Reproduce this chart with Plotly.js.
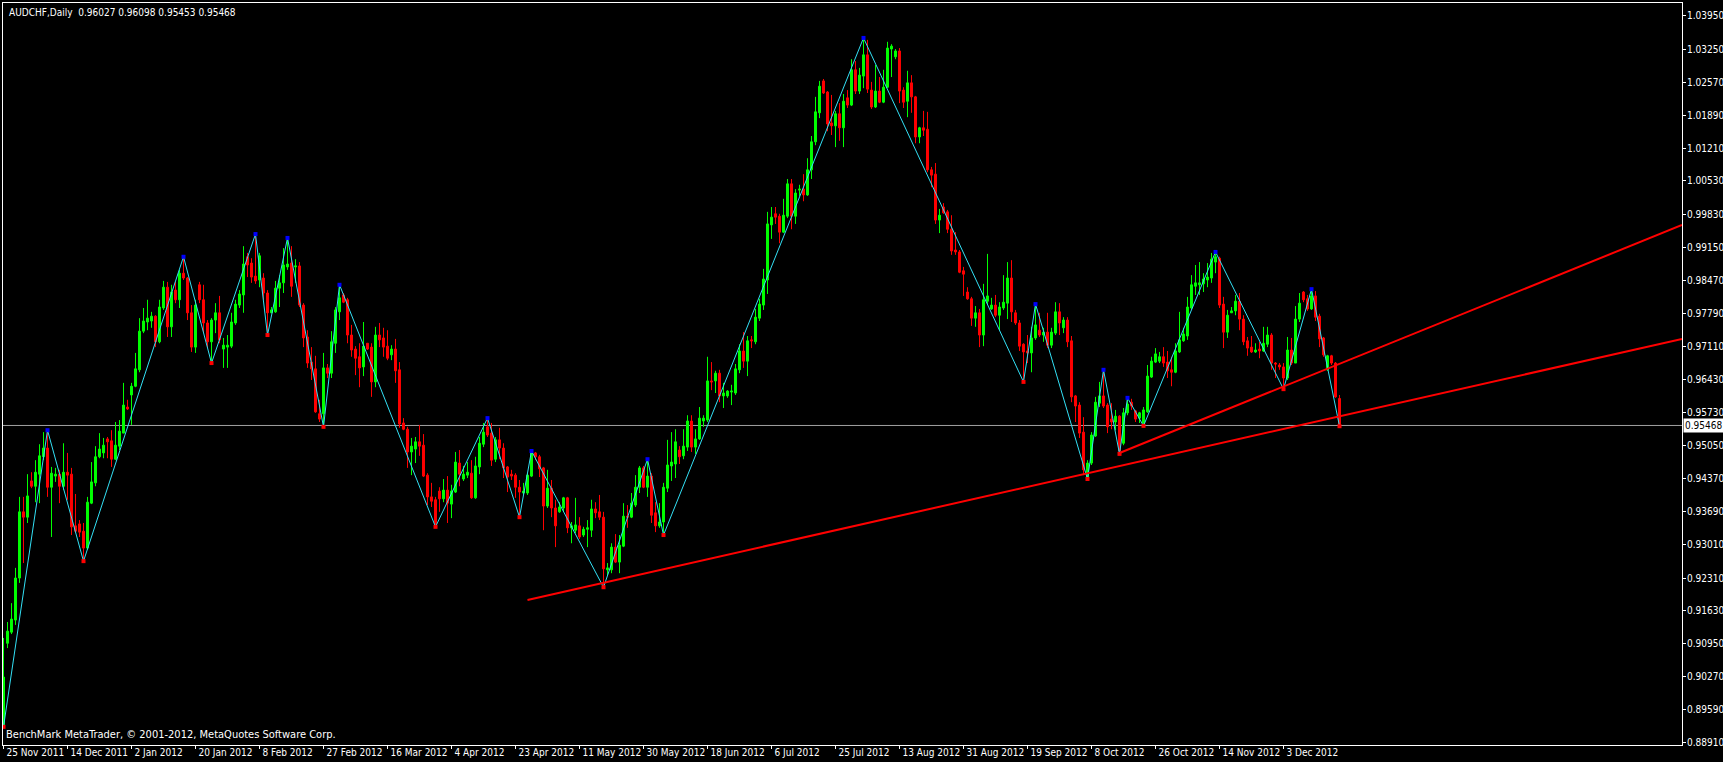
<!DOCTYPE html>
<html>
<head>
<meta charset="utf-8">
<script src="https://cdn.plot.ly/plotly-3.0.1.min.js"></script>
<style>
html,body{margin:0;padding:0;background:#000;}
#chart{width:1723px;height:762px;}
</style>
</head>
<body>
<div id="chart"></div>
<script>
// ---- DATA (AUDCHF Daily, bar index 0 = 25 Nov 2011) ----
const open = [
.8927,.9096,.9119,.9144,.9231,.9368,.9357,.9432,.9421,.9446,
.9482,.9500,.9419,.9442,.9446,.9421,.9450,.9446,.9339,.9343,
.9328,.9293,.9386,.9428,.9482,.9490,.9519,.9515,.9477,.9504,
.9531,.9585,.9610,.9628,.9662,.9742,.9761,.9763,.9773,.9720,
.9790,.9833,.9751,.9827,.9807,.9862,.9852,.9780,.9709,.9838,
.9807,.9759,.9720,.9765,.9780,.9705,.9709,.9711,.9759,.9796,
.9817,.9896,.9883,.9856,.9848,.9852,.9821,.9780,.9782,.9831,
.9842,.9875,.9883,.9875,.9877,.9796,.9730,.9678,.9664,.9571,
.9571,.9666,.9655,.9717,.9782,.9817,.9807,.9734,.9705,.9689,
.9668,.9717,.9709,.9637,.9734,.9728,.9711,.9693,.9705,.9662,
.9552,.9539,.9492,.9498,.9513,.9506,.9444,.9399,.9393,.9411,
.9395,.9413,.9384,.9409,.9469,.9436,.9444,.9448,.9397,.9461,
.9508,.9544,.9531,.9477,.9517,.9500,.9461,.9446,.9444,.9419,
.9407,.9407,.9442,.9490,.9482,.9459,.9380,.9417,.9376,.9368,
.9376,.9397,.9335,.9330,.9339,.9320,.9332,.9330,.9374,.9368,
.9357,.9248,.9248,.9295,.9264,.9297,.9359,.9357,.9382,.9419,
.9459,.9419,.9442,.9366,.9339,.9347,.9417,.9463,.9467,.9496,
.9484,.9502,.9556,.9502,.9519,.9556,.9558,.9639,.9639,.9655,
.9608,.9608,.9616,.9614,.9662,.9701,.9680,.9724,.9720,.9769,
.9796,.9848,.9962,.9985,.9980,.9947,.9980,1.0047,.9980,1.0034,
1.0036,1.0024,1.0076,1.0134,1.0194,1.0260,1.0237,1.0173,1.0167,1.0192,
1.0163,1.0225,1.0210,1.0283,1.0239,1.0270,1.0314,1.0241,1.0206,1.0239,
1.0216,1.0247,1.0326,1.0310,1.0322,1.0241,1.0218,1.0256,1.0227,1.0144,
1.0163,1.0160,1.0076,1.0067,.9972,.9999,.9989,.9953,.9910,.9906,
.9867,.9823,.9809,.9769,.9780,.9734,.9804,.9788,.9796,.9775,
.9790,.9800,.9852,.9780,.9759,.9715,.9701,.9697,.9728,.9744,
.9734,.9740,.9713,.9738,.9782,.9749,.9765,.9722,.9608,.9589,
.9533,.9440,.9469,.9525,.9593,.9608,.9589,.9560,.9554,.9566,
.9510,.9573,.9595,.9577,.9562,.9552,.9575,.9647,.9678,.9680,
.9689,.9678,.9662,.9657,.9699,.9722,.9732,.9790,.9835,.9838,
.9840,.9848,.9852,.9885,.9893,.9798,.9740,.9780,.9784,.9804,
.9767,.9722,.9709,.9699,.9705,.9701,.9715,.9734,.9676,.9672,
.9668,.9645,.9703,.9676,.9767,.9823,.9809,.9788,.9815,.9773,
.9728,.9662,.9691,.9676,.96027
];
const high = [
.9107,.9140,.9179,.9252,.9399,.9399,.9446,.9450,.9475,.9508,
.9533,.9537,.9461,.9459,.9455,.9510,.9490,.9459,.9405,.9351,
.9345,.9399,.9471,.9504,.9531,.9521,.9523,.9537,.9554,.9558,
.9635,.9600,.9635,.9697,.9769,.9790,.9807,.9782,.9775,.9807,
.9846,.9844,.9838,.9844,.9869,.9896,.9854,.9796,.9807,.9844,
.9838,.9765,.9769,.9800,.9815,.9728,.9734,.9780,.9807,.9827,
.9918,.9904,.9893,.9943,.9904,.9862,.9827,.9792,.9846,.9858,
.9914,.9935,.9918,.9891,.9885,.9800,.9744,.9709,.9691,.9600,
.9697,.9674,.9742,.9792,.9838,.9821,.9811,.9755,.9711,.9717,
.9761,.9717,.9717,.9751,.9759,.9749,.9744,.9713,.9726,.9678,
.9562,.9544,.9521,.9523,.9548,.9529,.9448,.9428,.9399,.9419,
.9436,.9442,.9424,.9492,.9496,.9463,.9471,.9475,.9482,.9523,
.9552,.9562,.9552,.9523,.9542,.9510,.9463,.9455,.9448,.9434,
.9428,.9448,.9494,.9492,.9486,.9461,.9455,.9434,.9393,.9388,
.9399,.9399,.9347,.9397,.9357,.9337,.9351,.9393,.9388,.9403,
.9368,.9262,.9303,.9322,.9320,.9386,.9382,.9407,.9444,.9463,
.9463,.9477,.9448,.9388,.9386,.9428,.9517,.9533,.9539,.9504,
.9539,.9568,.9568,.9539,.9585,.9568,.9689,.9678,.9660,.9662,
.9635,.9620,.9631,.9674,.9715,.9740,.9732,.9732,.9788,.9809,
.9871,.9989,.9999,.9999,.9985,1.0016,1.0057,1.0057,1.0036,1.0045,
1.0067,1.0100,1.0146,1.0227,1.0260,1.0264,1.0239,1.0231,1.0198,1.0214,
1.0233,1.0241,1.0305,1.0301,1.0287,1.0349,1.0345,1.0258,1.0293,1.0268,
1.0283,1.0341,1.0336,1.0326,1.0328,1.0247,1.0281,1.0272,1.0229,1.0165,
1.0198,1.0196,1.0082,1.0090,.9995,1.0007,.9993,.9982,.9947,.9910,
.9875,.9833,.9813,.9794,.9788,.9840,.9902,.9811,.9817,.9802,
.9858,.9885,.9889,.9786,.9765,.9717,.9734,.9751,.9798,.9780,
.9749,.9780,.9749,.9802,.9800,.9771,.9771,.9732,.9610,.9595,
.9564,.9475,.9533,.9606,.9637,.9662,.9593,.9593,.9579,.9568,
.9583,.9604,.9602,.9579,.9575,.9585,.9672,.9689,.9707,.9699,
.9709,.9701,.9689,.9717,.9782,.9749,.9813,.9858,.9879,.9885,
.9862,.9883,.9904,.9906,.9896,.9813,.9786,.9792,.9817,.9821,
.9775,.9730,.9732,.9717,.9720,.9751,.9751,.9738,.9678,.9676,
.9676,.9730,.9728,.9794,.9821,.9825,.9817,.9829,.9825,.9778,
.9730,.9693,.9693,.9678,.96098
];
const low = [
.8923,.9086,.9115,.9134,.9221,.9262,.9345,.9417,.9388,.9386,
.9475,.9399,.9316,.9430,.9386,.9413,.9393,.9320,.9324,.9316,
.9266,.9289,.9384,.9421,.9479,.9479,.9479,.9461,.9475,.9496,
.9531,.9579,.9548,.9626,.9657,.9738,.9744,.9749,.9709,.9717,
.9786,.9730,.9730,.9800,.9790,.9848,.9765,.9699,.9697,.9800,
.9738,.9707,.9676,.9738,.9717,.9666,.9666,.9707,.9755,.9790,
.9780,.9854,.9842,.9840,.9833,.9807,.9734,.9780,.9780,.9792,
.9821,.9869,.9813,.9842,.9792,.9709,.9666,.9641,.9573,.9554,
.9544,.9645,.9645,.9697,.9765,.9800,.9717,.9689,.9651,.9626,
.9649,.9703,.9606,.9626,.9709,.9689,.9682,.9682,.9635,.9542,
.9537,.9459,.9444,.9469,.9484,.9440,.9382,.9378,.9337,.9368,
.9388,.9345,.9355,.9407,.9421,.9432,.9438,.9395,.9395,.9446,
.9502,.9523,.9463,.9471,.9477,.9438,.9409,.9434,.9397,.9357,
.9403,.9403,.9440,.9475,.9440,.9330,.9376,.9357,.9295,.9366,
.9368,.9324,.9303,.9324,.9312,.9316,.9295,.9316,.9355,.9351,
.9212,.9237,.9241,.9262,.9241,.9295,.9335,.9355,.9378,.9407,
.9417,.9399,.9345,.9326,.9335,.9320,.9409,.9432,.9438,.9467,
.9477,.9494,.9492,.9488,.9517,.9544,.9554,.9620,.9614,.9595,
.9583,.9604,.9589,.9610,.9655,.9666,.9649,.9707,.9715,.9763,
.9786,.9819,.9933,.9964,.9924,.9945,.9976,.9953,.9964,1.0022,
1.0011,1.0022,1.0057,1.0127,1.0183,1.0233,1.0156,1.0148,1.0123,1.0136,
1.0123,1.0204,1.0208,1.0233,1.0233,1.0245,1.0235,1.0202,1.0204,1.0214,
1.0214,1.0245,1.0268,1.0305,1.0214,1.0204,1.0185,1.0194,1.0131,1.0131,
1.0146,1.0071,1.0040,.9964,.9945,.9985,.9945,.9900,.9900,.9862,
.9815,.9807,.9753,.9751,.9709,.9711,.9796,.9786,.9771,.9744,
.9786,.9767,.9761,.9755,.9701,.9637,.9676,.9657,.9724,.9730,
.9720,.9707,.9707,.9734,.9734,.9738,.9709,.9595,.9554,.9521,
.9444,.9436,.9465,.9523,.9585,.9583,.9531,.9539,.9537,.9488,
.9506,.9568,.9579,.9554,.9552,.9546,.9573,.9645,.9676,.9676,
.9668,.9645,.9628,.9655,.9697,.9720,.9724,.9786,.9817,.9817,
.9823,.9833,.9842,.9862,.9790,.9707,.9728,.9780,.9775,.9744,
.9713,.9691,.9697,.9697,.9686,.9699,.9709,.9662,.9645,.9662,
.9622,.9641,.9672,.9676,.9761,.9802,.9784,.9786,.9763,.9709,
.9689,.9660,.9672,.9604,.95453
];
const close = [
.9026,.9121,.9146,.9231,.9368,.9357,.9401,.9421,.9450,.9484,
.9500,.9419,.9448,.9446,.9421,.9450,.9444,.9337,.9328,.9326,
.9293,.9388,.9430,.9482,.9498,.9506,.9513,.9477,.9506,.9535,
.9589,.9581,.9628,.9664,.9742,.9763,.9769,.9773,.9720,.9792,
.9833,.9751,.9823,.9807,.9862,.9852,.9780,.9709,.9796,.9807,
.9759,.9720,.9765,.9780,.9724,.9713,.9713,.9761,.9798,.9819,
.9881,.9879,.9854,.9846,.9898,.9821,.9780,.9786,.9831,.9842,
.9879,.9881,.9835,.9877,.9796,.9728,.9676,.9664,.9575,.9560,
.9666,.9655,.9720,.9786,.9811,.9802,.9734,.9703,.9686,.9666,
.9711,.9705,.9637,.9734,.9724,.9709,.9686,.9705,.9660,.9550,
.9539,.9492,.9504,.9513,.9504,.9442,.9399,.9390,.9341,.9395,
.9413,.9386,.9411,.9471,.9446,.9446,.9450,.9397,.9463,.9510,
.9533,.9527,.9475,.9517,.9500,.9459,.9440,.9442,.9419,.9409,
.9411,.9444,.9492,.9482,.9457,.9380,.9417,.9376,.9339,.9378,
.9397,.9335,.9339,.9341,.9316,.9332,.9335,.9374,.9366,.9357,
.9250,.9252,.9295,.9264,.9299,.9359,.9357,.9386,.9419,.9459,
.9419,.9442,.9361,.9339,.9347,.9419,.9465,.9471,.9513,.9482,
.9504,.9556,.9502,.9519,.9562,.9562,.9639,.9637,.9655,.9608,
.9614,.9618,.9618,.9664,.9701,.9680,.9722,.9722,.9771,.9798,
.9850,.9964,.9978,.9978,.9947,.9982,1.0047,.9980,1.0028,1.0036,
1.0024,1.0076,1.0134,1.0196,1.0249,1.0235,1.0171,1.0167,1.0192,1.0163,
1.0218,1.0210,1.0283,1.0239,1.0272,1.0314,1.0243,1.0206,1.0239,1.0216,
1.0247,1.0328,1.0332,1.0322,1.0239,1.0216,1.0256,1.0227,1.0144,1.0163,
1.0158,1.0076,1.0065,.9972,.9982,.9987,.9953,.9908,.9906,.9864,
.9860,.9809,.9769,.9780,.9734,.9807,.9815,.9796,.9775,.9792,
.9802,.9852,.9782,.9759,.9711,.9699,.9697,.9728,.9755,.9734,
.9740,.9713,.9740,.9782,.9759,.9765,.9720,.9606,.9587,.9531,
.9455,.9469,.9527,.9595,.9608,.9587,.9544,.9554,.9566,.9494,
.9573,.9591,.9587,.9560,.9573,.9579,.9649,.9680,.9695,.9689,
.9676,.9660,.9657,.9701,.9724,.9736,.9792,.9838,.9842,.9842,
.9850,.9854,.9891,.9896,.9796,.9740,.9775,.9784,.9804,.9767,
.9720,.9707,.9699,.9703,.9701,.9717,.9734,.9676,.9674,.9668,
.9645,.9703,.9676,.9767,.9800,.9807,.9788,.9815,.9771,.9726,
.9693,.9691,.9676,.9606,.95468
];

// ZigZag swing points: [bar index, 'H' = bar high, 'L' = bar low]
const zigzag = [[0,'L'],[11,'H'],[20,'L'],[45,'H'],[52,'L'],[63,'H'],[66,'L'],[71,'H'],
  [80,'L'],[84,'H'],[108,'L'],[121,'H'],[129,'L'],[132,'H'],[150,'L'],[161,'H'],[165,'L'],
  [215,'H'],[255,'L'],[258,'H'],[271,'L'],[275,'H'],[279,'L'],[281,'H'],[285,'L'],
  [303,'H'],[320,'L'],[327,'H'],[334,'L']];

// Trend lines (anchor bars and prices), drawn as rays to the right
const trendA_bars = [131, 271];
const trendA_prices = [0.91857, 0.94478];
const trendB_bars = [279, 320];
const trendB_prices = [0.94898, 0.96274];

// Axis tick labels
const dateTickBars = [0,16,32,48,64,80,96,112,128,144,160,176,192,208,224,240,256,272,288,304,320];
const dateTickText = ['25 Nov 2011','14 Dec 2011','2 Jan 2012','20 Jan 2012','8 Feb 2012','27 Feb 2012',
  '16 Mar 2012','4 Apr 2012','23 Apr 2012','11 May 2012','30 May 2012','18 Jun 2012','6 Jul 2012',
  '25 Jul 2012','13 Aug 2012','31 Aug 2012','19 Sep 2012','8 Oct 2012','26 Oct 2012','14 Nov 2012','3 Dec 2012'];
const priceTickText = ['1.03950','1.03250','1.02570','1.01890','1.01210','1.00530','0.99830','0.99150',
  '0.98470','0.97790','0.97110','0.96430','0.95730','0.95050','0.94370','0.93690','0.93010','0.92310',
  '0.91630','0.90950','0.90270','0.89590','0.88910'];

// ---- BUILD ----
const bars = close.map((_, i) => i);
const last = close.length - 1;
const X_RANGE = [-0.125, 419.625];
const Y_RANGE = [0.88854, 1.04213];
const FONT = "'Liberation Sans Narrow', 'Arial Narrow', 'DejaVu Sans Condensed', sans-serif";
const FS = 10;

function ray(b, p) {
  const s = (p[1] - p[0]) / (b[1] - b[0]);
  return {x: [b[0], X_RANGE[1]], y: [p[0], p[0] + s * (X_RANGE[1] - b[0])]};
}

const zzX = zigzag.map(z => z[0]);
const zzY = zigzag.map(z => z[1] === 'H' ? high[z[0]] : low[z[0]]);
const hiPts = zigzag.filter(z => z[1] === 'H');
const loPts = zigzag.filter(z => z[1] === 'L');
const rA = ray(trendA_bars, trendA_prices);
const rB = ray(trendB_bars, trendB_prices);

const traces = [
  {type: 'candlestick', x: bars, open: open, high: high, low: low, close: close,
   increasing: {line: {color: '#00ff00', width: 1}, fillcolor: '#00ff00'},
   decreasing: {line: {color: '#ff0000', width: 1}, fillcolor: '#ff0000'},
   whiskerwidth: 0, hoverinfo: 'skip'},
  {type: 'scatter', mode: 'lines', x: zzX, y: zzY, line: {color: '#33e0f5', width: 1}, hoverinfo: 'skip'},
  {type: 'scatter', mode: 'markers', x: hiPts.map(z => z[0]), y: hiPts.map(z => high[z[0]]),
   marker: {color: '#0000ff', size: 4, symbol: 'square'}, hoverinfo: 'skip'},
  {type: 'scatter', mode: 'markers', x: loPts.map(z => z[0]), y: loPts.map(z => low[z[0]]),
   marker: {color: '#ff0000', size: 4, symbol: 'square'}, hoverinfo: 'skip'},
  {type: 'scatter', mode: 'lines', x: rA.x, y: rA.y, line: {color: '#ff0000', width: 2}, hoverinfo: 'skip'},
  {type: 'scatter', mode: 'lines', x: rB.x, y: rB.y, line: {color: '#ff0000', width: 2}, hoverinfo: 'skip'}
];

const layout = {
  width: 1723, height: 762,
  margin: {l: 3, r: 41, t: 3, b: 17, pad: 0},
  paper_bgcolor: '#000000', plot_bgcolor: '#000000',
  showlegend: false,
  font: {family: FONT, size: FS, color: '#ffffff'},
  xaxis: {
    type: 'linear', range: X_RANGE, showgrid: false, zeroline: false,
    showline: true, mirror: true, linecolor: '#ffffff', linewidth: 1,
    ticks: 'outside', ticklen: 3, tickcolor: '#ffffff', tickwidth: 1,
    tickmode: 'array', tickvals: dateTickBars, ticktext: dateTickText,
    ticklabelposition: 'outside right', tickangle: 0, ticklabelstandoff: -2, ticklabelshift: 2,
    tickfont: {family: FONT, size: FS, color: '#ffffff'},
    rangeslider: {visible: false}, fixedrange: true
  },
  yaxis: {
    side: 'right', range: Y_RANGE, showgrid: false, zeroline: false,
    showline: true, mirror: true, linecolor: '#ffffff', linewidth: 1,
    ticks: 'outside', ticklen: 3, tickcolor: '#ffffff', tickwidth: 1,
    tickmode: 'array', tickvals: priceTickText.map(Number), ticktext: priceTickText,
    tickangle: 0, ticklabelstandoff: -1,
    tickfont: {family: FONT, size: FS, color: '#ffffff'},
    fixedrange: true
  },
  shapes: [
    {type: 'line', xref: 'paper', x0: 0, x1: 1, yref: 'y', y0: close[last], y1: close[last],
     line: {color: '#a0a0a0', width: 1}, layer: 'below'}
  ],
  annotations: [
    {xref: 'paper', yref: 'paper', x: 0, y: 1, xanchor: 'left', yanchor: 'top', xshift: 4, yshift: -2,
     showarrow: false, align: 'left',
     text: 'AUDCHF,Daily\u00a0\u00a0' + [open[last], high[last], low[last], close[last]].map(v => v.toFixed(5)).join(' '),
     font: {family: FONT, size: FS, color: '#ffffff'}},
    {xref: 'paper', yref: 'paper', x: 0, y: 0, xanchor: 'left', yanchor: 'bottom', xshift: 1, yshift: 2,
     showarrow: false, align: 'left',
     text: 'BenchMark MetaTrader, \u00a9 2001-2012, MetaQuotes Software Corp.',
     font: {family: FONT, size: 11, color: '#ffffff'}},
    {xref: 'paper', yref: 'y', x: 1, y: close[last], xanchor: 'left', yanchor: 'middle', xshift: 1,
     showarrow: false, text: close[last].toFixed(5), bgcolor: '#ffffff', borderpad: 1,
     font: {family: FONT, size: FS, color: '#000000'}}
  ]
};

Plotly.newPlot('chart', traces, layout, {staticPlot: true, displayModeBar: false});
</script>
</body>
</html>
